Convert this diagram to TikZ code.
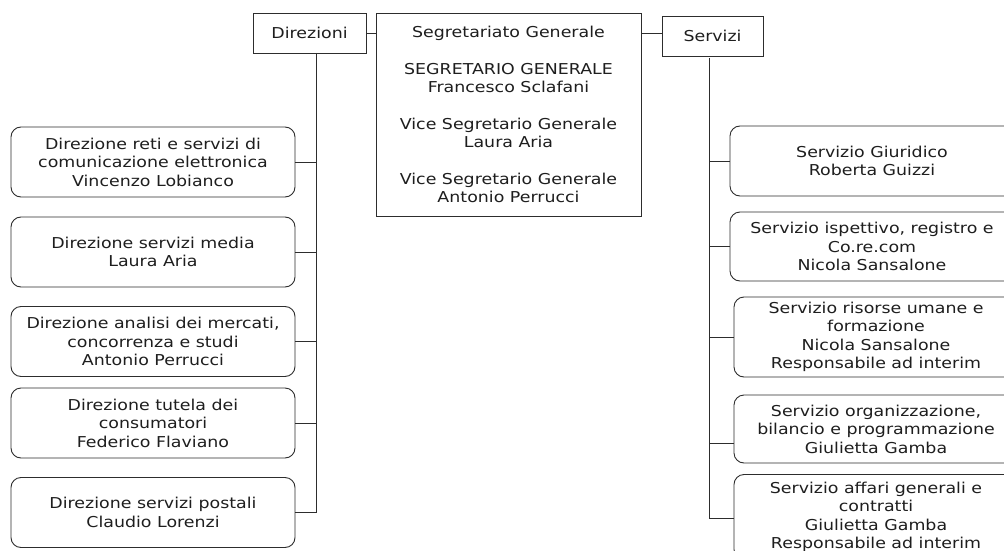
\documentclass[tikz,border=0pt]{standalone}
\usepackage{fontspec}
\setmainfont[FakeStretch=1.16]{DejaVu Sans}
\usepackage{tikz}
\usetikzlibrary{positioning}
\definecolor{orgline}{RGB}{45, 45, 45}
\definecolor{orgtext}{RGB}{30, 30, 30}

\begin{document}
\begin{tikzpicture}[x=1pt, y=-1pt, font=\fontsize{15}{18.5}\selectfont, text=orgtext]
    \tikzstyle{head} = [rectangle, draw=orgline, line width=0.9pt, inner sep=0pt, align=center]
    \tikzstyle{unit} = [rectangle, rounded corners=10pt, draw=orgline, line width=0.9pt, minimum width=284pt, minimum height=70pt, inner sep=0pt, align=center]
    \tikzstyle{link} = [draw=orgline, line width=0.9pt]

    \clip (0,0) rectangle (1004,551);
    \fill[white] (0,0) rectangle (1004,551);

    % top row
    \node (seg) [head, minimum width=265pt, minimum height=203pt] at (508.5,114.5)
        {Segretariato Generale\\[18pt]SEGRETARIO GENERALE\\Francesco Sclafani\\[18pt]Vice Segretario Generale\\Laura Aria\\[18pt]Vice Segretario Generale\\Antonio Perrucci};
    \node (dir) [head, minimum width=113pt, minimum height=40pt] at (309.5,33) {Direzioni};
    \node (srv) [head, minimum width=101pt, minimum height=40pt] at (712.5,36) {Servizi};

    % direzioni
    \node (d1) [unit] at (153,162) {Direzione reti e servizi di\\comunicazione elettronica\\Vincenzo Lobianco};
    \node (d2) [unit] at (153,252) {Direzione servizi media\\Laura Aria};
    \node (d3) [unit] at (153,341.5) {Direzione analisi dei mercati,\\concorrenza e studi\\Antonio Perrucci};
    \node (d4) [unit] at (153,423) {Direzione tutela dei\\consumatori\\Federico Flaviano};
    \node (d5) [unit] at (153,512.5) {Direzione servizi postali\\Claudio Lorenzi};

    % servizi
    \node (s1) [unit] at (872,161) {Servizio Giuridico\\Roberta Guizzi};
    \node (s2) [unit, minimum height=69pt] at (872,246.5) {Servizio ispettivo, registro e\\Co.re.com\\Nicola Sansalone};
    \node (s3) [unit, minimum height=80pt] at (876,337) {Servizio risorse umane e\\formazione\\Nicola Sansalone\\Responsabile ad interim};
    \node (s4) [unit, minimum height=68pt] at (876,429) {Servizio organizzazione,\\bilancio e programmazione\\Giulietta Gamba};
    \node (s5) [unit, minimum height=85pt] at (876,517) {Servizio affari generali e\\contratti\\Giulietta Gamba\\Responsabile ad interim};

    \coordinate (dtop) at (316,53);
    \coordinate (stop) at (709,58);

    \draw [link] (dir.east) -- (dir.east -| seg.west);
    \draw [link] (seg.east |- dir.east) -- (srv.west |- dir.east);

    \draw [link] (dtop) -- (dtop |- d5.east);
    \foreach \d in {d1,d2,d3,d4,d5}
        \draw [link] (\d.east) -- (\d.east -| dtop);

    \draw [link] (stop) -- ([yshift=-1pt]stop |- s5.west);
    \foreach \s in {s1,s2,s3}
        \draw [link] (\s.west) -- (\s.west -| stop);
    \draw [link] ([yshift=-14pt]s4.west) -- ([yshift=-14pt]s4.west -| stop);
    \draw [link] ([yshift=-1pt]s5.west) -- ([yshift=-1pt]s5.west -| stop);
\end{tikzpicture}
\end{document}
